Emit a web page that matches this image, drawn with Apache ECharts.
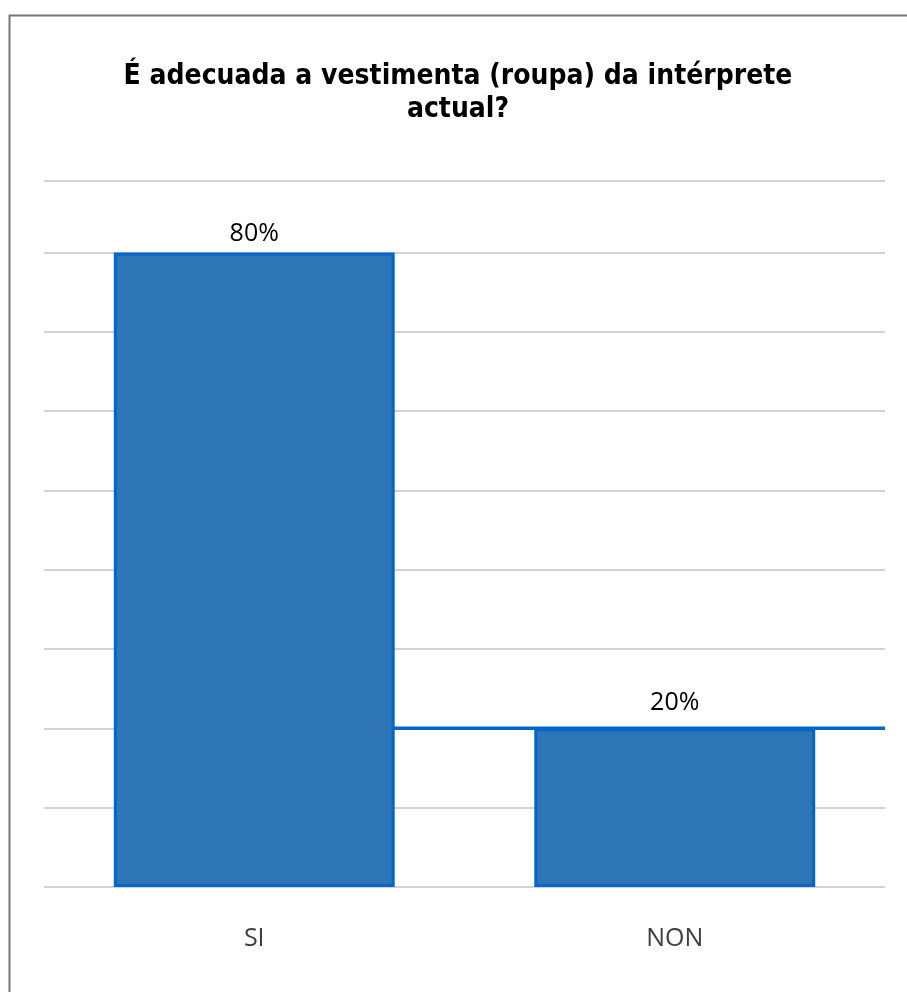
<!DOCTYPE html>
<html>
<head>
<meta charset="utf-8">
<script src="https://cdn.jsdelivr.net/npm/echarts@6/dist/echarts.min.js"></script>
<style>
html,body{margin:0;padding:0;background:#fff;}
#c{width:907px;height:992px;}
</style>
</head>
<body>
<div id="c"></div>
<script>
var titleText = 'É adecuada a vestimenta (roupa) da intérprete\nactual?';
var categories = ['SI', 'NON'];
var values = [80, 20];
var labelDistances = [6, 13];
var axisMax = 89;
var axisInterval = 10;
// connector line seen in the original, running at the NON level from the SI bar edge to the plot edge
var connectorX = [0.83, 2];

var chart = echarts.init(document.getElementById('c'), null, {renderer: 'canvas'});
chart.setOption({
  backgroundColor: '#ffffff',
  animation: false,
  graphic: [{
    type: 'rect',
    left: 7, top: 13,
    shape: {width: 1000, height: 1000},
    style: {fill: 'none', stroke: '#777777', lineWidth: 2},
    z: 0
  }],
  title: {
    text: titleText,
    left: 453, top: 55, textAlign: 'center',
    textStyle: {
      fontFamily: 'DejaVu Sans Condensed', fontWeight: 'bold', fontSize: 28,
      color: '#000000', lineHeight: 33
    }
  },
  grid: {left: 44, right: 22, top: 181, bottom: 105, containLabel: false},
  xAxis: [{
    type: 'category',
    data: categories,
    axisLine: {show: false},
    axisTick: {show: false},
    axisLabel: {
      margin: 39, fontFamily: 'Open Sans', fontSize: 25, color: '#404040'
    }
  }, {
    type: 'value', min: 0, max: 2, show: false
  }],
  yAxis: {
    type: 'value', min: 0, max: axisMax, interval: axisInterval,
    axisLine: {show: false},
    axisTick: {show: false},
    axisLabel: {show: false},
    splitLine: {lineStyle: {color: '#c4c4c4', width: 1.5}}
  },
  series: [{
    type: 'bar',
    data: values.map(function (v, i) {
      return {value: v, label: {distance: labelDistances[i]}};
    }),
    barWidth: '66.8%',
    itemStyle: {color: '#2e75b6', borderColor: '#0066cc', borderWidth: 3},
    label: {
      show: true, position: 'top',
      formatter: '{c}%',
      fontFamily: 'Open Sans', fontSize: 25, color: '#000000'
    },
    z: 3
  }, {
    type: 'line',
    xAxisIndex: 1,
    data: [[connectorX[0], values[1]], [connectorX[1], values[1]]],
    symbol: 'none',
    lineStyle: {color: '#0066cc', width: 3.5},
    z: 4,
    silent: true
  }]
});
</script>
</body>
</html>
